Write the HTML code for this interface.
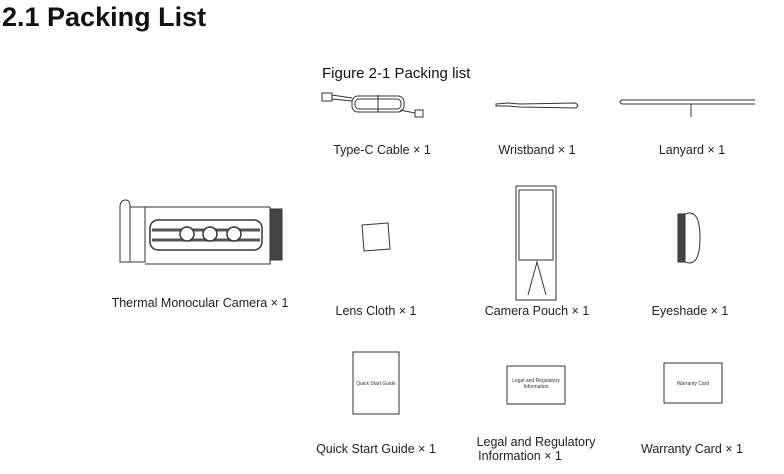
<!DOCTYPE html>
<html><head><style>
body{margin:0;background:#fff;width:784px;height:469px;overflow:hidden;font-family:"Liberation Sans",sans-serif;}
</style></head><body>
<svg width="784" height="469" xmlns="http://www.w3.org/2000/svg" font-family="Liberation Sans, sans-serif">
<text x="2" y="26" font-size="27" font-weight="bold" fill="#111">2.1 Packing List</text>
<text x="322" y="78" font-size="15" fill="#111">Figure 2-1 Packing list</text>
<g font-size="12.5" fill="#222" text-anchor="middle">
<text x="382" y="154">Type-C Cable × 1</text>
<text x="537" y="154">Wristband × 1</text>
<text x="692" y="154">Lanyard × 1</text>
<text x="200" y="307">Thermal Monocular Camera × 1</text>
<text x="376" y="315">Lens Cloth × 1</text>
<text x="537" y="315">Camera Pouch × 1</text>
<text x="690" y="315">Eyeshade × 1</text>
<text x="376" y="453">Quick Start Guide × 1</text>
<text x="536" y="446">Legal and Regulatory</text>
<text x="520" y="460">Information × 1</text>
<text x="692" y="453">Warranty Card × 1</text>
</g>
<g fill="none" stroke="#333" stroke-width="1">
<!-- cable -->
<rect x="322" y="93" width="10" height="8"/>
<path d="M332 95 L352 98 M332 99 L352 101"/>
<rect x="352" y="96" width="52" height="16" rx="6"/>
<rect x="355" y="99" width="46" height="10" rx="4"/>
<path d="M378 95 V112 M400 110 L415 113"/>
<rect x="415" y="110" width="8" height="7"/>
<!-- wristband -->
<path d="M496 104 L508 103 L520 104 L575 103 Q580 105 576 108 L520 107 L508 106 L496 106 Z"/>
<!-- lanyard -->
<path d="M622 100 H755 M622 104 H755 M622 100 Q618 102 622 104"/>
<path d="M691 104 V117"/>
<!-- camera -->
<path d="M120 207 Q120 200 126 200 Q130 200 130 207 L130 262 L120 262 Z"/>
<rect x="130" y="207" width="15" height="55"/>
<path d="M145 207 H270 V264 H145"/>
<rect x="150" y="220" width="112" height="30" rx="8" stroke-width="1.5"/>
<path d="M152 230 H260 M152 240 H260" stroke-width="3" stroke="#555"/>
<circle cx="187" cy="234" r="7" fill="#fff" stroke-width="1.5"/>
<circle cx="210" cy="234" r="7" fill="#fff" stroke-width="1.5"/>
<circle cx="234" cy="234" r="7" fill="#fff" stroke-width="1.5"/>
<rect x="270" y="209" width="12" height="51" fill="#444"/>
<!-- lens cloth -->
<path d="M362 225 L388 223 L390 249 L364 251 Z"/>
<!-- pouch -->
<path d="M516 186 H556 V300 H516 Z M519 190 H553 V260 H519 Z M528 295 L537 262 L546 295"/>
<!-- eyeshade -->
<rect x="678" y="214" width="7" height="48" fill="#444"/>
<path d="M685 214 Q700 208 700 238 Q700 268 685 262"/>
<!-- booklets -->
<rect x="353" y="352" width="46" height="62"/>
<rect x="507" y="366" width="58" height="38"/>
<rect x="664" y="363" width="58" height="40"/>
</g>
<g font-size="5" fill="#333" text-anchor="middle">
<text x="376" y="385">Quick Start Guide</text>
<text x="536" y="382">Legal and Regulatory</text>
<text x="536" y="388">Information</text>
<text x="693" y="385">Warranty Card</text>
</g>
</svg>
</body></html>
